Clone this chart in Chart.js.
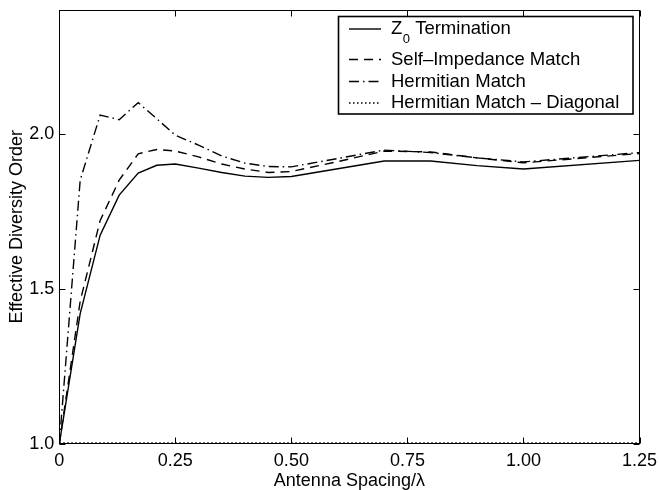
<!DOCTYPE html>
<html><head><meta charset="utf-8">
<script src="https://cdn.jsdelivr.net/npm/chart.js@4/dist/chart.umd.min.js"></script>
<style>html,body{margin:0;padding:0;background:#fff;}#wrap{width:659px;height:490px;position:relative;}</style>
</head><body><div id="wrap"><canvas id="c" width="659" height="490"></canvas></div>
<script>
// ---- data ----
const spacing = [0, 0.045, 0.088, 0.129, 0.17, 0.21, 0.25, 0.3, 0.35, 0.4, 0.45, 0.5, 0.6, 0.7, 0.8, 0.9, 1.0, 1.25];
const z0Termination = [1.0, 1.42, 1.673, 1.802, 1.873, 1.898, 1.902, 1.889, 1.875, 1.863, 1.859, 1.862, 1.887, 1.912, 1.912, 1.897, 1.886, 1.914];
const selfImpedanceMatch = [1.0, 1.46, 1.72, 1.85, 1.935, 1.949, 1.944, 1.925, 1.902, 1.886, 1.875, 1.878, 1.91, 1.944, 1.941, 1.922, 1.906, 1.936];
const hermitianMatch = [1.0, 1.85, 2.06, 2.045, 2.10, 2.048, 1.995, 1.963, 1.928, 1.905, 1.894, 1.893, 1.92, 1.947, 1.939, 1.922, 1.909, 1.939];
const hermitianDiagonal = [1.003, 1.003, 1.003, 1.003, 1.003, 1.003, 1.003, 1.003, 1.003, 1.003, 1.003, 1.003, 1.003, 1.003, 1.003, 1.003, 1.003, 1.003];
const seriesLabels = ['Z_0 Termination', 'Self\u2013Impedance Match', 'Hermitian Match', 'Hermitian Match \u2013 Diagonal'];
const xTickValues = [0, 0.25, 0.5, 0.75, 1.0, 1.25];
const xTickLabels = ['0', '0.25', '0.50', '0.75', '1.00', '1.25'];
const yTickValues = [1.0, 1.5, 2.0];
const yTickLabels = ['1.0', '1.5', '2.0'];
const xTitle = 'Antenna Spacing/\u03bb';
const yTitle = 'Effective Diversity Order';

const FONT = '"Liberation Sans", Arial, Helvetica, sans-serif';
const toXY = arr => arr.map((v, i) => ({x: spacing[i], y: v}));
const dashes = [[], [9, 6], [10, 4, 1.5, 4], [1.5, 2.5]];
const series = [z0Termination, selfImpedanceMatch, hermitianMatch, hermitianDiagonal];

const frame = {
  id: 'frame',
  afterDatasetsDraw(chart) {
    const {ctx, chartArea: a, scales: {x, y}} = chart;
    ctx.save();
    ctx.strokeStyle = '#000';
    ctx.lineWidth = 1;
    const L = Math.round(a.left) + 0.5, R = Math.round(a.right) - 0.5, T = Math.round(a.top) + 0.5, B = Math.round(a.bottom) - 0.5;
    ctx.strokeRect(L, T, R - L, B - T);
    const tl = 6;
    ctx.beginPath();
    x.ticks.forEach(t => {
      const px = Math.round(x.getPixelForValue(t.value)) + 0.5;
      ctx.moveTo(px, B); ctx.lineTo(px, B - tl);
      ctx.moveTo(px, T); ctx.lineTo(px, T + tl);
    });
    y.ticks.forEach(t => {
      const py = Math.round(y.getPixelForValue(t.value)) + 0.5;
      ctx.moveTo(L, py); ctx.lineTo(L + tl, py);
      ctx.moveTo(R, py); ctx.lineTo(R - tl, py);
    });
    ctx.stroke();

    // legend box
    const bx = 338.5, by = 16.5, bw = 294.5, bh = 97.5;
    ctx.fillStyle = '#fff';
    ctx.fillRect(bx, by, bw, bh);
    ctx.lineWidth = 1.6;
    ctx.strokeRect(bx, by, bw, bh);
    const rowsY = [29, 59.5, 81.5, 103];
    chart.data.datasets.forEach((ds, i) => {
      const yy = rowsY[i];
      ctx.save();
      ctx.lineWidth = ds.borderWidth;
      ctx.setLineDash(ds.borderDash || []);
      ctx.beginPath();
      ctx.moveTo(349, yy); ctx.lineTo(381, yy);
      ctx.stroke();
      ctx.restore();
      ctx.fillStyle = '#000';
      ctx.textBaseline = 'middle';
      ctx.textAlign = 'left';
      ctx.font = '18.5px ' + FONT;
      const lab = ds.label;
      if (lab.indexOf('_') >= 0) {
        const parts = lab.split('_');
        const main = parts[0];
        const sub = parts[1].charAt(0);
        const rest = parts[1].slice(1);
        let tx = 391;
        ctx.fillText(main, tx, yy);
        tx += ctx.measureText(main).width;
        ctx.font = '13px ' + FONT;
        ctx.fillText(sub, tx + 0.5, yy + 10.5);
        tx += ctx.measureText(sub).width + 0.5;
        ctx.font = '18.5px ' + FONT;
        ctx.fillText(rest, tx, yy);
      } else {
        ctx.fillText(lab, 391, yy);
      }
    });
    ctx.restore();
  }
};

const noPad = s => { s.paddingTop = 0; s.paddingBottom = 0; s.paddingLeft = 0; s.paddingRight = 0; };

new Chart(document.getElementById('c'), {
  type: 'line',
  data: {
    datasets: series.map((s, i) => ({
      label: seriesLabels[i],
      data: toXY(s),
      borderColor: '#000',
      backgroundColor: '#000',
      borderWidth: 1.4,
      borderDash: dashes[i],
      pointRadius: 0,
      tension: 0,
      fill: false
    }))
  },
  options: {
    responsive: false,
    devicePixelRatio: 1,
    animation: false,
    layout: {padding: {left: 0, right: 19.5, top: 9.5, bottom: 0}},
    plugins: {legend: {display: false}, tooltip: {enabled: false}},
    scales: {
      x: {
        type: 'linear', min: 0, max: 1.25,
        grid: {display: false, drawTicks: false},
        border: {display: false},
        afterBuildTicks: s => { s.ticks = xTickValues.map(v => ({value: v})); },
        afterFit: s => { s.height = 46; noPad(s); },
        ticks: {
          padding: 6, color: '#000', maxRotation: 0,
          font: {family: FONT, size: 18},
          callback: (v) => { const i = xTickValues.indexOf(v); return i >= 0 ? xTickLabels[i] : ''; }
        },
        title: {display: true, text: xTitle, color: '#000', font: {family: FONT, size: 18}, padding: {top: 0, bottom: -2}}
      },
      y: {
        type: 'linear', min: 1.0, max: 2.4,
        grid: {display: false, drawTicks: false},
        border: {display: false},
        afterBuildTicks: s => { s.ticks = yTickValues.map(v => ({value: v})); },
        afterFit: s => { s.width = 59.3; noPad(s); },
        ticks: {
          padding: 5, color: '#000',
          font: {family: FONT, size: 18},
          callback: (v) => { const i = yTickValues.indexOf(v); return i >= 0 ? yTickLabels[i] : ''; }
        },
        title: {display: true, text: yTitle, color: '#000', font: {family: FONT, size: 18}, padding: {top: 6, bottom: 0}}
      }
    }
  },
  plugins: [frame]
});
</script>
</body></html>
